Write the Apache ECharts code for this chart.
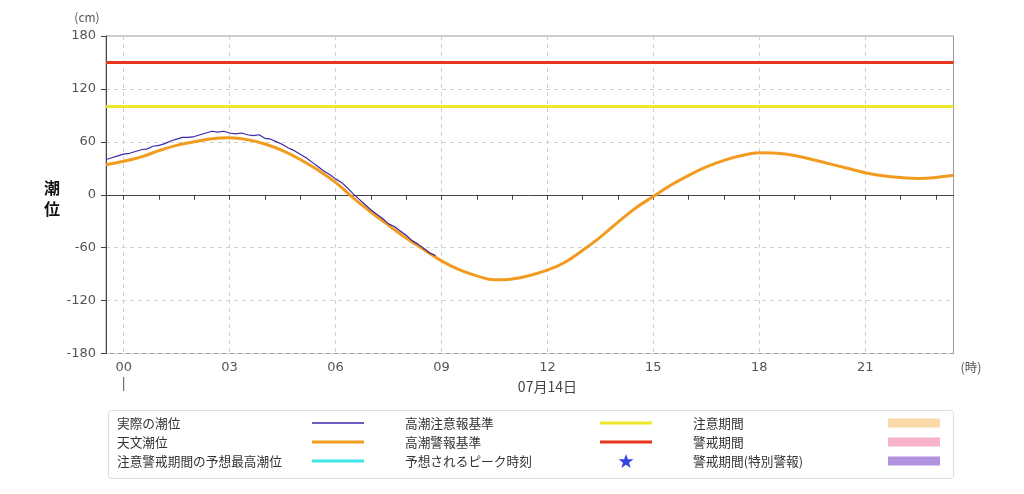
<!DOCTYPE html>
<html><head><meta charset="utf-8">
<script src="https://cdn.jsdelivr.net/npm/echarts@6/dist/echarts.min.js"></script>
<style>html,body{margin:0;padding:0;background:#fff}#c{width:1024px;height:494px}</style>
</head><body><div id="c"></div>
<script>
// x categories: every 10 minutes from 13日23:30 to 14日23:30
const hourLabels = ['00','03','06','09','12','15','18','21'];
const dateLabel = '07月14日';
const yMin = -180, yMax = 180, yStep = 60;

// 天文潮位, every 30 minutes from 23:30 (prev day) to 23:30
const astroTide = [34, 38, 43, 50, 56, 60, 63.5, 64.5, 62.5, 57.5, 50, 40, 28, 14, -3.5, -19.5, -34.5, -49, -62, -75, -85, -92, -96.5, -95.5, -91.5, -85.5, -76.5, -63, -48, -31, -15, -2, 11, 22, 31.5, 39, 44.5, 47.5, 47, 44.5, 40, 35, 30, 25, 21.5, 19.5, 18.5, 19.5, 22];
// 実際の潮位, every 10 minutes from 23:30 (prev day) to 08:50
const actualTide = [40, 42, 44, 46, 47, 49, 51, 52, 55, 56, 58, 61, 63, 65, 65, 66, 68, 70, 72, 71, 72, 70, 69, 70, 68, 67, 68, 64, 63, 60, 57, 53, 50, 46, 42, 37, 32, 27, 23, 18, 14, 8, 1, -5, -11, -17, -22, -27, -33, -36, -41, -46, -52, -56, -61, -66, -69];
const cautionLevel = 100;  // 高潮注意報基準
const warningLevel = 150;  // 高潮警報基準

const names = {
  actual: '実際の潮位', astro: '天文潮位', forecast: '注意警戒期間の予想最高潮位',
  caution: '高潮注意報基準', warning: '高潮警報基準', peak: '予想されるピーク時刻',
  cautionPeriod: '注意期間', warningPeriod: '警戒期間', specialPeriod: '警戒期間(特別警報)'
};

const times = [];
for (let m = -30; m <= 1410; m += 10) {
  const day = m < 0 ? '13日' : '14日';
  const mm = (m + 1440) % 1440;
  times.push(day + String(Math.floor(mm / 60)).padStart(2, '0') + ':' + String(mm % 60).padStart(2, '0'));
}
const lastIdx = times.length - 1;
const isHour = i => i % 6 === 3;
const is3Hour = i => i % 18 === 3;

const FONT = '"Noto Sans CJK JP", "Noto Sans", sans-serif';
const NUMFONT = '"DejaVu Sans", sans-serif';
const star = 'path://M12,1 L14.9,8.9 L23.4,9.1 L16.7,14.3 L19.1,22.5 L12,17.7 L4.9,22.5 L7.3,14.3 L0.6,9.1 L9.1,8.9 Z';
const thinLine = 'path://M0,0H52V1.4H0Z';
const thickLine = 'path://M0,0H52V3H0Z';

function legendCol(left, data, itemHeight) {
  return {
    orient: 'vertical', left: left, top: 416, align: 'right', padding: 0,
    itemWidth: 52, itemHeight: itemHeight, itemGap: 5, selectedMode: false,
    itemStyle: { borderWidth: 0 },
    data: data,
    formatter: n => '{a|' + n + '}',
    textStyle: {
      rich: { a: { width: 190, height: 14, align: 'left', fontSize: 12.7, lineHeight: 14, color: '#333', fontFamily: FONT } }
    }
  };
}

const chart = echarts.init(document.getElementById('c'), null, { renderer: 'canvas' });
chart.setOption({
  animation: false,
  textStyle: { fontFamily: FONT },
  grid: { left: 106, right: 70.5, top: 36, bottom: 140.5, show: true, borderColor: '#999', borderWidth: 1, backgroundColor: 'transparent' },
  xAxis: {
    type: 'category', data: times, boundaryGap: false,
    axisLine: { lineStyle: { color: '#444', width: 1 } },
    axisTick: { interval: (i) => isHour(i), length: 5, lineStyle: { color: '#444' } },
    axisLabel: {
      interval: (i) => is3Hour(i), margin: 8, fontSize: 13, color: '#555', fontFamily: NUMFONT,
      formatter: (v, i) => hourLabels[(i - 3) / 18]
    },
    splitLine: { show: true, interval: (i) => is3Hour(i), lineStyle: { color: '#d0d0d0', type: [4, 4] } }
  },
  yAxis: {
    type: 'value', min: yMin, max: yMax, interval: yStep,
    axisLine: { show: true, lineStyle: { color: '#444' } },
    axisTick: { show: true, length: 5, lineStyle: { color: '#444' } },
    axisLabel: { margin: 10, fontSize: 13, color: '#555', fontFamily: NUMFONT },
    splitLine: { lineStyle: { color: '#d0d0d0', type: [4, 4] } }
  },
  legend: [
    legendCol(117, [
      { name: names.actual, icon: thinLine },
      { name: names.astro, icon: thickLine },
      { name: names.forecast, icon: thickLine }], 14),
    legendCol(405, [
      { name: names.caution, icon: thickLine },
      { name: names.warning, icon: thickLine },
      { name: names.peak, icon: star }], 14),
    legendCol(693, [
      { name: names.cautionPeriod, icon: 'rect' },
      { name: names.warningPeriod, icon: 'rect' },
      { name: names.specialPeriod, icon: 'rect' }], 9)
  ],
  series: [
    { name: names.caution, type: 'line', symbol: 'none', color: '#efe52b', lineStyle: { width: 3 }, z: 2,
      data: [[0, cautionLevel], [lastIdx, cautionLevel]] },
    { name: names.warning, type: 'line', symbol: 'none', color: '#e8361e', lineStyle: { width: 3 }, z: 2,
      data: [[0, warningLevel], [lastIdx, warningLevel]] },
    { name: names.astro, type: 'line', symbol: 'none', smooth: 0.4, color: '#f29c1f', lineStyle: { width: 3 }, z: 3,
      data: astroTide.map((v, k) => [k * 3, v]) },
    { name: names.actual, type: 'line', symbol: 'none', color: '#3b28a8', lineStyle: { width: 1.2 }, z: 4,
      data: actualTide.map((v, k) => [k, v]) },
    { name: names.forecast, type: 'line', symbol: 'none', color: '#3fe6e6', lineStyle: { width: 3 }, data: [] },
    { name: names.peak, type: 'scatter', symbol: star, symbolSize: 14, color: '#0a14d8', data: [] },
    { name: names.cautionPeriod, type: 'bar', color: '#fcd9a8', data: [] },
    { name: names.warningPeriod, type: 'bar', color: '#f8b2cb', data: [] },
    { name: names.specialPeriod, type: 'bar', color: '#b393e0', data: [] }
  ]
});

const x0 = chart.convertToPixel({ xAxisIndex: 0 }, 3);
const xNoon = chart.convertToPixel({ xAxisIndex: 0 }, 75);
chart.setOption({
  graphic: [
    { type: 'rect', left: 106, top: 408, shape: { width: 845, height: 68, r: 3 }, style: { fill: 'none', stroke: '#dcdcdc', lineWidth: 1 }, z: -1 },
    { type: 'text', x: 87, y: 17, style: { text: '(cm)', fontSize: 12, fill: '#555', align: 'center', verticalAlign: 'middle', fontFamily: FONT } },
    { type: 'text', x: 52, y: 198, style: { text: '潮\n位', fontSize: 16, fontWeight: 'bold', lineHeight: 21, fill: '#111', align: 'center', verticalAlign: 'middle', fontFamily: FONT } },
    { type: 'text', x: 971, y: 367, style: { text: '(時)', fontSize: 12.5, fill: '#555', align: 'center', verticalAlign: 'middle', fontFamily: FONT } },
    { type: 'text', x: xNoon, y: 387, style: { text: dateLabel, fontSize: 14, fill: '#444', align: 'center', verticalAlign: 'middle', fontFamily: FONT } },
    { type: 'line', shape: { x1: x0, y1: 377, x2: x0, y2: 391 }, style: { stroke: '#555', lineWidth: 1 } }
  ]
});
</script></body></html>
